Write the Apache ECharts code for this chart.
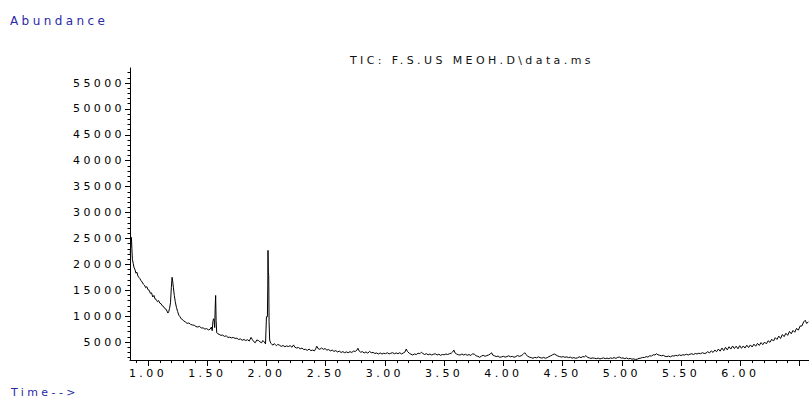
<!DOCTYPE html>
<html>
<head>
<meta charset="utf-8">
<script src="https://cdn.jsdelivr.net/npm/echarts@6/dist/echarts.min.js"></script>
<style>
  html, body { margin: 0; padding: 0; background: #fff; }
  #chart { width: 809px; height: 398px; }
  #chart svg text { letter-spacing: 3.4px; }
</style>
</head>
<body>
<div id="chart"></div>
<script>
const times = [
0.850,0.855,0.860,0.864,0.868,0.875,0.882,0.890,0.898,0.906,0.914,0.922,0.930,0.940,0.950,0.960,0.970,0.980,0.990,1.000,
1.010,1.020,1.030,1.040,1.050,1.060,1.070,1.080,1.090,1.100,1.110,1.120,1.130,1.140,1.150,1.160,1.168,1.175,1.182,1.190,
1.197,1.203,1.208,1.214,1.222,1.230,1.240,1.250,1.260,1.270,1.280,1.290,1.300,1.315,1.330,1.345,1.360,1.375,1.390,1.405,
1.420,1.435,1.450,1.465,1.480,1.495,1.510,1.525,1.535,1.542,1.548,1.553,1.558,1.563,1.567,1.571,1.575,1.580,1.590,1.600,
1.615,1.630,1.645,1.660,1.675,1.690,1.705,1.720,1.735,1.750,1.765,1.780,1.795,1.810,1.825,1.840,1.855,1.870,1.880,1.892,
1.905,1.918,1.932,1.945,1.958,1.970,1.982,1.992,1.997,2.000,2.008,2.011,2.013,2.016,2.019,2.022,2.027,2.035,2.045,2.055,
2.065,2.075,2.085,2.095,2.110,2.125,2.140,2.155,2.170,2.185,2.200,2.215,2.228,2.240,2.255,2.270,2.285,2.300,2.315,2.330,
2.345,2.360,2.375,2.390,2.405,2.415,2.425,2.435,2.450,2.465,2.480,2.495,2.510,2.525,2.540,2.555,2.570,2.585,2.600,2.615,
2.630,2.645,2.660,2.675,2.690,2.705,2.720,2.735,2.750,2.762,2.772,2.782,2.795,2.810,2.825,2.840,2.855,2.870,2.885,2.900,
2.915,2.930,2.945,2.960,2.975,2.990,3.005,3.020,3.035,3.050,3.065,3.080,3.095,3.110,3.125,3.140,3.155,3.170,3.180,3.190,
3.205,3.220,3.235,3.250,3.265,3.280,3.295,3.308,3.320,3.335,3.350,3.365,3.380,3.395,3.410,3.425,3.440,3.455,3.470,3.485,
3.500,3.515,3.530,3.545,3.560,3.572,3.582,3.592,3.605,3.620,3.635,3.650,3.665,3.680,3.695,3.710,3.725,3.740,3.755,3.770,
3.785,3.800,3.815,3.830,3.845,3.860,3.875,3.890,3.900,3.910,3.925,3.940,3.955,3.970,3.985,4.000,4.015,4.030,4.045,4.060,
4.075,4.090,4.105,4.120,4.135,4.150,4.165,4.180,4.192,4.205,4.220,4.235,4.250,4.265,4.280,4.295,4.310,4.325,4.340,4.355,
4.370,4.385,4.400,4.415,4.430,4.445,4.460,4.475,4.490,4.505,4.520,4.535,4.550,4.565,4.580,4.595,4.610,4.625,4.640,4.655,
4.670,4.685,4.697,4.710,4.725,4.740,4.755,4.770,4.785,4.800,4.815,4.830,4.845,4.860,4.875,4.890,4.905,4.920,4.935,4.950,
4.965,4.980,4.995,5.010,5.025,5.040,5.055,5.070,5.085,5.100,5.115,5.130,5.145,5.160,5.175,5.190,5.205,5.220,5.235,5.250,
5.265,5.280,5.292,5.305,5.320,5.335,5.350,5.365,5.380,5.395,5.410,5.425,5.440,5.455,5.470,5.485,5.500,5.515,5.530,5.545,
5.560,5.575,5.590,5.605,5.620,5.635,5.650,5.665,5.680,5.695,5.710,5.725,5.740,5.755,5.770,5.785,5.800,5.815,5.830,5.845,
5.860,5.875,5.890,5.905,5.920,5.935,5.950,5.965,5.980,5.995,6.010,6.025,6.040,6.055,6.070,6.085,6.100,6.115,6.130,6.145,
6.160,6.175,6.190,6.205,6.220,6.235,6.250,6.265,6.280,6.295,6.310,6.325,6.340,6.355,6.370,6.385,6.400,6.415,6.430,6.445,
6.460,6.475,6.490,6.505,6.520,6.535,6.548,6.560,6.575
];
const abundance = [
22100,23800,25200,23000,21000,20200,19400,19000,18300,18500,17800,17500,17300,16900,16600,16200,16000,15500,15700,15100,
15000,14400,14500,13700,14000,13300,13200,12800,13000,12500,12400,12000,11900,11500,11400,11000,10600,10900,11500,12600,
15500,17500,16800,15600,14000,12800,11700,10900,10200,9900,9500,9400,9100,8900,8600,8700,8400,8300,8250,8000,
7900,8050,7700,7750,7500,7600,7350,7500,7900,7200,9000,9500,9300,7800,11500,14000,9200,6800,6600,6500,
6300,6350,6100,6200,5900,5950,5800,5900,5700,5750,5500,5600,5350,5500,5300,5450,5200,5900,5500,5100,
4870,5400,5300,5050,4850,5300,5000,4650,4700,9900,9900,16000,22700,18500,17800,9000,5400,4800,4600,4400,
4700,4500,4300,4550,4400,4150,4350,4100,4250,4150,4300,4000,4450,4000,3850,3950,3700,3850,3550,3600,
3400,3650,3350,3450,3300,3700,4200,3750,3600,3850,3600,3750,3450,3550,3300,3450,3200,3350,3100,3250,
3000,3150,2950,3100,2950,3150,3000,3250,3200,3400,3800,3300,3050,3150,2900,3100,2850,3200,2950,3000,
2800,2900,2700,2900,2700,2850,2750,2950,2700,2850,2950,2750,2900,2750,2950,2700,2900,3100,3650,3200,
2850,2650,2500,2700,2600,2850,2750,3050,2800,2600,2750,2550,2700,2500,2650,2750,2500,2650,2450,2600,
2550,2700,2600,2750,2850,3100,3450,2900,2700,2550,2500,2700,2500,2650,2450,2600,2400,2750,2650,2350,
2250,2060,2300,2450,2250,2400,2500,2700,2950,2500,2350,2200,2300,2060,2150,2250,2100,2200,2350,2150,
2250,2060,2200,2400,2250,2350,2600,2950,2600,2250,2100,2000,1870,2050,1950,2150,2000,1900,2050,1870,
2000,2200,2350,2550,2700,2500,2300,2200,2100,2200,2050,2150,2000,2100,1900,2000,1870,1950,2150,2000,
2200,2150,2400,2050,1950,1850,1950,1870,1800,1900,1750,1850,1950,1800,1900,1800,1950,1850,2000,1850,
2050,2100,1900,1950,1800,1950,1750,1850,1700,1750,1650,1700,1850,1900,2050,2000,2200,2100,2350,2300,
2550,2500,2750,2550,2450,2350,2450,2250,2200,2300,2150,2350,2300,2450,2350,2550,2400,2550,2500,2650,
2500,2650,2750,2600,2800,2700,2850,2750,2950,2800,2850,3150,2900,3300,3000,3450,3150,3650,3250,3850,
3350,4000,3500,4100,3650,4250,3750,4200,3700,4300,3800,4250,3850,4400,3950,4450,4050,4600,4200,4750,
4350,4900,4500,5000,4650,5250,4950,5550,5200,5850,5500,6150,5700,6450,6050,6700,6300,7050,6600,7250,
6900,7650,7300,8100,8100,8900,9200,8600,8900
];

const xTickLabels = [1.0, 1.5, 2.0, 2.5, 3.0, 3.5, 4.0, 4.5, 5.0, 5.5, 6.0];
const xMajorTicks = [1.0, 1.5, 2.0, 2.5, 3.0, 3.5, 4.0, 4.5, 5.0, 5.5, 6.0, 6.5];
const xMinorTicks = [0.9, 1.0, 1.1, 1.2, 1.3, 1.4, 1.5, 1.6, 1.7, 1.8, 1.9, 2.0, 2.1, 2.2, 2.3, 2.4, 2.5,
  2.6, 2.7, 2.8, 2.9, 3.0, 3.1, 3.2, 3.3, 3.4, 3.5, 3.6, 3.7, 3.8, 3.9, 4.0, 4.1, 4.2, 4.3, 4.4, 4.5,
  4.6, 4.7, 4.8, 4.9, 5.0, 5.1, 5.2, 5.3, 5.4, 5.5, 5.6, 5.7, 5.8, 5.9, 6.0, 6.1, 6.2, 6.3, 6.4, 6.5];
const yTickLabels = [5000, 10000, 15000, 20000, 25000, 30000, 35000, 40000, 45000, 50000, 55000];
const yMinorTicks = [2000, 3000, 4000, 5000, 6000, 7000, 8000, 9000, 10000, 11000, 12000, 13000, 14000,
  15000, 16000, 17000, 18000, 19000, 20000, 21000, 22000, 23000, 24000, 25000, 26000, 27000, 28000,
  29000, 30000, 31000, 32000, 33000, 34000, 35000, 36000, 37000, 38000, 39000, 40000, 41000, 42000,
  43000, 44000, 45000, 46000, 47000, 48000, 49000, 50000, 51000, 52000, 53000, 54000, 55000, 56000, 57000];

const X_MIN = 0.848, X_MAX = 6.58;
const Y_MIN = 1540, Y_MAX = 57900;
const FONT = "'DejaVu Sans', 'Liberation Sans', Arial, sans-serif";
const BLUE = '#2a2aa8';

const chart = echarts.init(document.getElementById('chart'), null, { renderer: 'svg' });
chart.setOption({
  animation: false,
  backgroundColor: '#fff',
  title: [
    { text: 'Abundance', left: 10, top: 15, padding: 0,
      textStyle: { color: BLUE, fontSize: 12, fontWeight: 'normal', fontFamily: FONT } },
    { text: 'TIC: F.S.US MEOH.D\\data.ms', left: 350, top: 55, padding: 0,
      textStyle: { color: '#111', fontSize: 11, fontWeight: 'normal', fontFamily: FONT } },
    { text: 'Time-->', left: 11, top: 387, padding: 0,
      textStyle: { color: BLUE, fontSize: 11, fontWeight: 'normal', fontFamily: FONT } }
  ],
  grid: { left: 130, right: 0, top: 68, bottom: 38, containLabel: false },
  xAxis: [
    { type: 'value', min: X_MIN, max: X_MAX, position: 'bottom',
      axisLine: { show: true, onZero: false, lineStyle: { color: '#000', width: 1 } },
      axisTick: { show: true, customValues: xMajorTicks, length: 6, lineStyle: { color: '#000' } },
      axisLabel: { customValues: xTickLabels, formatter: v => v.toFixed(2), margin: 8,
        color: '#000', fontSize: 11, fontFamily: FONT },
      splitLine: { show: false } },
    { type: 'value', min: X_MIN, max: X_MAX, position: 'bottom',
      axisLine: { show: false, onZero: false },
      axisTick: { show: true, customValues: xMinorTicks, length: 3, lineStyle: { color: '#000' } },
      axisLabel: { show: false },
      splitLine: { show: false } }
  ],
  yAxis: [
    { type: 'value', min: Y_MIN, max: Y_MAX, position: 'left',
      axisLine: { show: true, onZero: false, lineStyle: { color: '#000', width: 1 } },
      axisTick: { show: true, customValues: yTickLabels, length: 5, lineStyle: { color: '#000' } },
      axisLabel: { customValues: yTickLabels, formatter: v => String(v), margin: 5,
        color: '#000', fontSize: 11, fontFamily: FONT },
      splitLine: { show: false } },
    { type: 'value', min: Y_MIN, max: Y_MAX, position: 'left',
      axisLine: { show: false, onZero: false },
      axisTick: { show: true, customValues: yMinorTicks, length: 2.5, lineStyle: { color: '#000' } },
      axisLabel: { show: false },
      splitLine: { show: false } }
  ],
  series: [{
    type: 'line',
    xAxisIndex: 0, yAxisIndex: 0,
    data: times.map((t, i) => [t, abundance[i]]),
    showSymbol: false,
    symbol: 'none',
    lineStyle: { color: '#000', width: 1 },
    clip: true
  }]
});
</script>
</body>
</html>
